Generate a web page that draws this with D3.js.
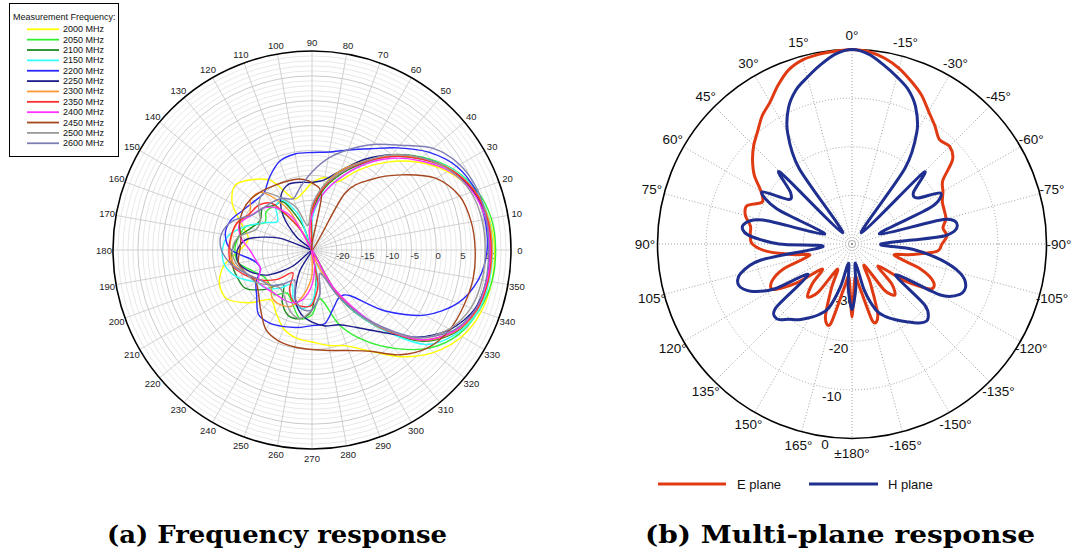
<!DOCTYPE html>
<html><head><meta charset="utf-8">
<script src="https://cdn.jsdelivr.net/npm/d3@7"></script>
<style>body{margin:0;background:#fff} svg{display:block}</style>
</head><body>
<svg id="c" width="1073" height="555"></svg>
<script>
// ---------- Chart (a): frequency response ----------
const anglesA = d3.range(0, 360, 10);           // degrees, counter-clockwise from east
const radialTicksA = [-20, -15, -10, -5, 0, 5, 10];
const angleTicksA = d3.range(0, 360, 10);
const freqLabels = ["2000 MHz","2050 MHz","2100 MHz","2150 MHz","2200 MHz","2250 MHz","2300 MHz","2350 MHz","2400 MHz","2450 MHz","2500 MHz","2600 MHz"];
const freqColors = ["#ffff00","#33ee33","#1f8a1f","#33ffff","#2a2aff","#1c1c8a","#ff9933","#ff2e2e","#ff33ff","#a5461e","#9a9a9a","#7e7eb4"];
const f2000 = [11.7, 11.2, 9.5, 6.5, 2.5, -2, -6.5, -10.5, -10.2, -11.5, -13.5, -14, -9, -6.5, -4.8, -6.5, -10, -12, -10.5, -7, -5.2, -5.3, -8.5, -12, -10.5, -8.2, -7, -6.5, -5.5, -4.5, -1.5, 3, 7, 9.8, 11.2, 11.7];
const f2050 = [11.9, 11.6, 10.2, 7.6, 4, 0, -4.5, -8, -12, -17, -25, -25, -20, -14, -13, -14, -11, -10, -9.5, -10, -12.5, -14, -14, -13.3, -15, -13.5, -11, -12, -15, -9, -4, 0.8, 5.7, 9, 10.7, 11.7];
const f2100 = [11.2, 10.9, 9.8, 7.2, 3.5, -0.5, -5, -9, -13, -18, -25, -20, -14, -13.3, -12, -13, -12, -10, -9, -8.7, -9, -9.6, -12.7, -16, -13, -11, -11, -13, -20, -25, -14, -5, 3.5, 8.2, 10.3, 11];
const f2150 = [11.3, 11.1, 10, 7.5, 3.8, -0.3, -5.5, -10, -14, -19, -25, -18, -13.5, -13.7, -16, -14, -11, -8, -7, -7.2, -9, -12, -13, -15, -17, -14, -13, -14.5, -19, -22, -14, -5, 4.5, 8.6, 10.6, 11.2];
const f2200 = [10.2, 10.3, 10, 8.6, 5.6, 1.8, -1.5, -3.6, -5, -5.4, -5.4, -6, -8, -10, -9.8, -9, -7.6, -7.3, -8.8, -13, -14, -12, -10.5, -8.2, -8, -8.6, -9.2, -9.8, -10, -12.5, -14, -13, -6, 1.2, 6.2, 9];
const f2250 = [10.8, 10.5, 9.5, 7.2, 3.8, 0, -4, -8, -10.7, -11.4, -11.2, -11, -12.5, -16, -21, -25, -18, -12, -10, -10, -12, -15, -20, -25, -20, -15, -12, -10.5, -9.5, -9, -7, -3.5, 2.3, 7, 9.8, 10.6];
const f2300 = [11.2, 11, 9.8, 7.3, 3.6, -0.4, -4.5, -8, -12, -17, -22, -25, -16, -10, -9, -10.5, -9, -8.6, -8.5, -9, -11, -13, -14, -12.5, -12.3, -13, -16, -20, -25, -22, -15, -5.5, 3.2, 8, 10.3, 11];
const f2350 = [11, 10.8, 9.7, 7.2, 3.5, -0.5, -4.8, -8.5, -12.5, -17, -25, -25, -20, -13, -11, -10.5, -9, -8.5, -8.3, -8.5, -10.5, -13, -15.8, -19, -16, -14, -13.5, -14, -18, -24, -15, -5.5, 3, 7.8, 10.2, 10.9];
const f2400 = [10.8, 10.5, 9.3, 6.8, 3, -1, -5.5, -10, -14, -18, -22, -25, -18, -14, -12, -11, -9.5, -10.5, -12.5, -13.5, -14, -12.5, -13, -13.5, -13.5, -13.7, -15, -18, -22, -25, -16, -6, 3, 7.8, 10, 10.7];
const f2450 = [7.8, 7.5, 6.6, 3.8, -1.5, -6.5, -12, -25, -14, -11.5, -10.5, -10.3, -10, -9.5, -9, -9, -9.5, -10.5, -10.5, -10, -11, -12, -11, -9, -6.5, -5.5, -5.2, -5, -4.5, -3.5, -1.5, 2.5, 5.5, 7, 7.5, 7.9];
const f2500 = [9.8, 9.7, 9, 7, 3.8, 0, -4.5, -8.5, -12, -16, -20, -16, -13, -10, -11, -13, -13, -10, -9, -9.5, -11, -12, -14, -15, -14, -12, -11, -13, -16, -20, -14, -5.5, 2.5, 6.8, 9, 9.7];
const f2600 = [10.5, 10.6, 10.4, 9.3, 6.8, 2.5, -0.5, -3.5, -6.3, -9.3, -12, -14, -13, -12.5, -12, -11, -8, -6.5, -6.8, -8.5, -11, -13, -14, -16, -18, -15, -13, -13, -16, -20, -14, -6, 2.3, 7.5, 10, 10.5];
const freqSeries = [f2000, f2050, f2100, f2150, f2200, f2250, f2300, f2350, f2400, f2450, f2500, f2600];

// ---------- Chart (b): multi-plane response ----------
const anglesB = d3.range(-180, 180, 5);          // degrees, 0 at top, positive to the left
const radialTicksB = [-30, -20, -10, 0];
const angleTicksB = d3.range(-165, 181, 15);
const planeLabels = ["E plane", "H plane"];
const planeColors = ["#e03a12", "#1f2f8f"];
const ePlane = [-25, -33, -31, -23.5, -24.5, -31, -35, -28.5, -26.3, -28.5, -33, -27, -21.5, -21.5, -25, -31, -27.5, -22.5,
  -21.5, -20.4, -21, -20, -19.8, -19.5, -18.4, -17.2, -13, -11.6, -12, -10.3, -8.5, -6.2, -4.4, -2.6, -1.2, -0.3,
  0, -0.2, -0.4, -0.8, -1.9, -4, -6.3, -7.8, -9.8, -11.4, -13.3, -15.5, -18.4, -19.6, -17, -17.3, -18.8, -19,
  -19.5, -22.5, -27.5, -31, -25, -21.8, -21.3, -26, -32, -28.5, -25.8, -28, -34, -30, -24, -23, -31, -33];
const hPlane = [-26.5, -31, -36, -30, -25.5, -23.5, -22, -20.5, -18.8, -18, -20.5, -29, -19, -15.5, -15.1, -17, -21.5, -27.5,
  -34, -21, -18, -20.5, -34, -22, -19, -23.5, -23.5, -19.3, -37, -21, -13.3, -9, -6.2, -4.4, -2.6, -0.8,
  0, -0.8, -2.6, -4.5, -6.3, -9.1, -13.5, -21, -37, -19.2, -23.5, -24, -18.6, -23, -34, -21, -17.3, -18.5,
  -25, -34, -21, -16.2, -15.2, -17, -21.5, -29, -19.5, -18.2, -19.8, -21, -22.5, -24, -26, -31, -36, -31];
const planeSeries = [ePlane, hPlane];

const captions = ["(a) Frequency response", "(b) Multi-plane response"];

// ================= drawing =================
const svg = d3.select("#c");
const sans = "'Liberation Sans', Arial, sans-serif";
const rad = d => d * Math.PI / 180;

// ---- (a)
const A = {cx: 312, cy: 250, R: 199};
const rA = d3.scaleLinear().domain([-25, 15]).range([0, A.R]).clamp(true);
const gA = svg.append("g").attr("transform", `translate(${A.cx},${A.cy})`);
d3.range(-24, 15, 1).forEach(v => {
  gA.append("circle").attr("r", rA(v)).attr("fill", "none")
    .attr("stroke", v % 5 === 0 ? "#bdbdbd" : "#e2e2e2").attr("stroke-width", 0.8);
});
angleTicksA.forEach(a => {
  gA.append("line").attr("x1", 0).attr("y1", 0)
    .attr("x2", A.R * Math.cos(rad(a))).attr("y2", -A.R * Math.sin(rad(a)))
    .attr("stroke", "#c6c6c6").attr("stroke-width", 0.8);
});
gA.append("circle").attr("r", A.R).attr("fill", "none").attr("stroke", "#000").attr("stroke-width", 1.6);
angleTicksA.forEach(a => {
  gA.append("text").attr("x", 208 * Math.cos(rad(a))).attr("y", -208 * Math.sin(rad(a)))
    .attr("text-anchor", "middle").attr("dominant-baseline", "central")
    .attr("font-family", sans).attr("font-size", 9.5).attr("fill", "#222").text(a);
});
radialTicksA.forEach(v => {
  gA.append("text").attr("x", rA(v) - 1).attr("y", 9)
    .attr("font-family", sans).attr("font-size", 9.5).attr("fill", "#333").text(v);
});
const lineA = d3.lineRadial()
  .angle((d, i) => rad(90 - anglesA[i]))
  .radius(d => rA(d))
  .curve(d3.curveCardinalClosed.tension(0.1));
freqSeries.forEach((s, k) => {
  gA.append("path").attr("d", lineA(s)).attr("fill", "none")
    .attr("stroke", freqColors[k]).attr("stroke-width", 1.4).attr("stroke-linejoin", "round");
});
// legend (a)
const lg = svg.append("g");
lg.append("rect").attr("x", 9.5).attr("y", 3.5).attr("width", 109).attr("height", 153)
  .attr("fill", "#fff").attr("stroke", "#000").attr("stroke-width", 1);
lg.append("text").attr("x", 13).attr("y", 20).attr("font-family", sans).attr("font-size", 9)
  .attr("fill", "#111").text("Measurement Frequency:");
freqLabels.forEach((l, i) => {
  const y = 29.3 + i * 10.36;
  lg.append("line").attr("x1", 27).attr("x2", 59).attr("y1", y).attr("y2", y)
    .attr("stroke", freqColors[i]).attr("stroke-width", 1.8);
  lg.append("text").attr("x", 63).attr("y", y).attr("dominant-baseline", "central")
    .attr("font-family", sans).attr("font-size", 9).attr("fill", "#111").text(l);
});

// ---- (b)
const B = {cx: 852, cy: 244, R: 194.5};
const rB = d3.scaleLinear().domain([-40, 0]).range([0, B.R]).clamp(true);
const gB = svg.append("g").attr("transform", `translate(${B.cx},${B.cy})`);
[-30, -20, -10].forEach(v => {
  gB.append("circle").attr("r", rB(v)).attr("fill", "none")
    .attr("stroke", "#8a8a8a").attr("stroke-width", 0.8).attr("stroke-dasharray", "1,2");
});
angleTicksB.forEach(a => {
  gB.append("line").attr("x1", 0).attr("y1", 0)
    .attr("x2", -B.R * Math.sin(rad(a))).attr("y2", -B.R * Math.cos(rad(a)))
    .attr("stroke", "#8a8a8a").attr("stroke-width", 0.8).attr("stroke-dasharray", "1,2");
});
gB.append("circle").attr("r", B.R).attr("fill", "none").attr("stroke", "#000").attr("stroke-width", 1.6);
angleTicksB.forEach(a => {
  const lab = a === 180 ? "±180°" : a + "°";
  gB.append("text").attr("x", -207 * Math.sin(rad(a))).attr("y", -209 * Math.cos(rad(a)))
    .attr("text-anchor", "middle").attr("dominant-baseline", "central")
    .attr("font-family", sans).attr("font-size", 13.5).attr("fill", "#111").text(lab);
});
radialTicksB.forEach(v => {
  const r = rB(v), t = rad(172);
  gB.append("text").attr("x", -r * Math.sin(t)).attr("y", -r * Math.cos(t) + 8)
    .attr("text-anchor", "middle").attr("dominant-baseline", "central")
    .attr("font-family", sans).attr("font-size", 13.5).attr("fill", "#111").text(v);
});
const lineB = d3.lineRadial()
  .angle((d, i) => rad(-anglesB[i]))
  .radius(d => rB(d))
  .curve(d3.curveCardinalClosed.tension(0.1));
planeSeries.forEach((s, k) => {
  gB.append("path").attr("d", lineB(s)).attr("fill", "none")
    .attr("stroke", planeColors[k]).attr("stroke-width", 3).attr("stroke-linejoin", "round");
});
// legend (b)
const lgB = svg.append("g");
[[658, 726, 737], [809, 878, 888]].forEach((p, i) => {
  lgB.append("line").attr("x1", p[0]).attr("x2", p[1]).attr("y1", 484).attr("y2", 484)
    .attr("stroke", planeColors[i]).attr("stroke-width", 3);
  lgB.append("text").attr("x", p[2]).attr("y", 484).attr("dominant-baseline", "central")
    .attr("font-family", sans).attr("font-size", 13).attr("fill", "#111").text(planeLabels[i]);
});

// captions
[[107, 340], [645, 390]].forEach((p, i) => {
  svg.append("text").attr("x", p[0]).attr("y", 543)
    .attr("font-family", "'DejaVu Serif', serif").attr("font-weight", "bold").attr("font-size", 24)
    .attr("textLength", p[1]).attr("lengthAdjust", "spacingAndGlyphs")
    .attr("fill", "#000").text(captions[i]);
});
</script>
</body></html>
